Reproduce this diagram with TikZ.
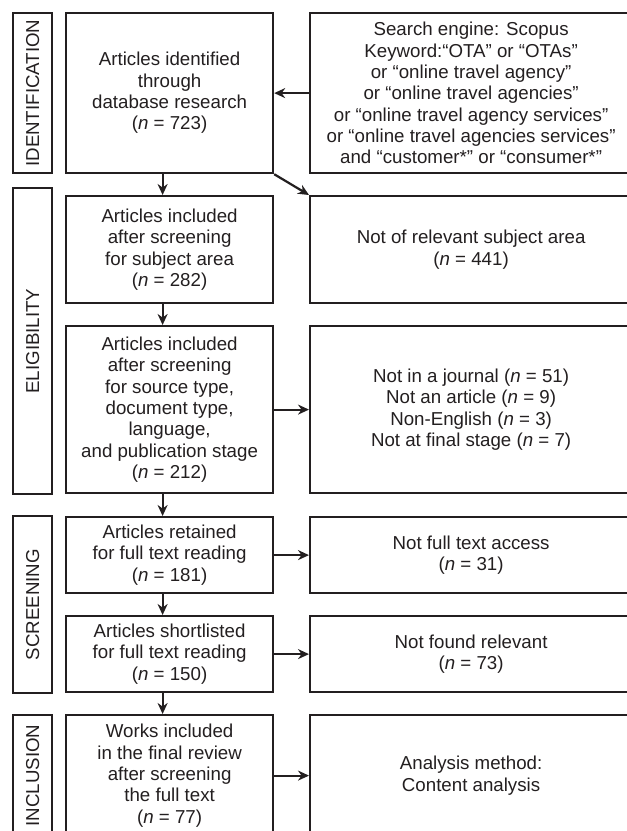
\documentclass[tikz,border=0pt]{standalone}
\usepackage{fontspec}
\setmainfont{Liberation Sans}
\usetikzlibrary{arrows.meta}
\definecolor{ink}{HTML}{231F20}

\begin{document}
\begin{tikzpicture}[x=1pt,y=1pt]
        \tikzstyle{box}=[rectangle,draw=ink,line width=2.2pt,text=ink,align=center,anchor=north west,inner sep=2pt,
          font=\fontsize{18.7}{21.3}\selectfont]
        \tikzstyle{stage}=[box,anchor=north west,minimum width=39pt]
        \tikzstyle{stagetext}=[rotate=90,text=ink,font=\fontsize{18.7}{21.3}\selectfont]
        \tikzstyle{flow}=[draw=ink,line width=2.2pt,-{Stealth[length=11pt,width=10pt]}]
        \clip (0,0) rectangle (627,-831);
        \fill[white] (0,0) rectangle (627,-831);
        \node[stage,minimum height=160pt] (identification) at (12,-12) {};
        \node[stagetext] at (identification.center) {IDENTIFICATION};
        \node[stage,minimum height=306pt] (eligibility) at (12,-187) {};
        \node[stagetext] at (eligibility.center) {ELIGIBILITY};
        \node[stage,minimum height=177pt] (screening) at (12,-515) {};
        \node[stagetext] at (screening.center) {SCREENING};
        \node[stage,minimum height=121pt] (inclusion) at (12,-714) {};
        \node[stagetext] at (inclusion.center) {INCLUSION};

        \node[box,minimum width=207pt,minimum height=160pt] (identified) at (65,-12)
          {Articles identified\\through\\database research\\(\textit{n} = 723)};
        \node[box,minimum width=207pt,minimum height=107pt] (subject) at (65,-195)
          {Articles included\\after screening\\for subject area\\(\textit{n} = 282)};
        \node[box,minimum width=207pt,minimum height=167pt] (source) at (65,-325)
          {Articles included\\after screening\\for source type,\\document type,\\language,\\and publication stage\\(\textit{n} = 212)};
        \node[box,minimum width=207pt,minimum height=76pt] (retained) at (65,-516)
          {Articles retained\\for full text reading\\(\textit{n} = 181)};
        \node[box,minimum width=207pt,minimum height=76pt] (shortlisted) at (65,-615)
          {Articles shortlisted\\for full text reading\\(\textit{n} = 150)};
        \node[box,minimum width=207pt,minimum height=121pt] (works) at (65,-714)
          {Works included\\in the final review\\after screening\\the full text\\(\textit{n} = 77)};

        \node[box,minimum width=322pt,minimum height=160pt] (search) at (309,-12)
          {Search engine: Scopus\\Keyword:“OTA” or “OTAs”\\or “online travel agency”\\or “online travel agencies”\\or “online travel agency services”\\or “online travel agencies services”\\and “customer*” or “consumer*”};
        \node[box,minimum width=322pt,minimum height=107pt] (notsubject) at (309,-195)
          {Not of relevant subject area\\(\textit{n} = 441)};
        \node[box,minimum width=322pt,minimum height=167pt] (notsource) at (309,-325)
          {Not in a journal (\textit{n} = 51)\\Not an article (\textit{n} = 9)\\Non-English (\textit{n} = 3)\\Not at final stage (\textit{n} = 7)};
        \node[box,minimum width=322pt,minimum height=76pt] (notfull) at (309,-516)
          {Not full text access\\(\textit{n} = 31)};
        \node[box,minimum width=322pt,minimum height=76pt] (notfound) at (309,-615)
          {Not found relevant\\(\textit{n} = 73)};
        \node[box,minimum width=322pt,minimum height=121pt] (analysis) at (309,-714)
          {Analysis method:\\Content analysis};

        \draw[flow] (search.west) -- (identified.east);
        \draw[flow] (identified.south east) -- (notsubject.north west);
        \draw[flow] ([xshift=-7pt]identified.south) -- ([xshift=-7pt]subject.north);
        \draw[flow] ([xshift=-7pt]subject.south) -- ([xshift=-7pt]source.north);
        \draw[flow] ([xshift=-7pt]source.south) -- ([xshift=-7pt]retained.north);
        \draw[flow] ([xshift=-7pt]retained.south) -- ([xshift=-7pt]shortlisted.north);
        \draw[flow] ([xshift=-7pt]shortlisted.south) -- ([xshift=-7pt]works.north);
        \draw[flow] (source.east) -- (notsource.west);
        \draw[flow] (retained.east) -- (notfull.west);
        \draw[flow] (shortlisted.east) -- (notfound.west);
        \draw[flow] (works.east) -- (analysis.west);
\end{tikzpicture}
\end{document}
